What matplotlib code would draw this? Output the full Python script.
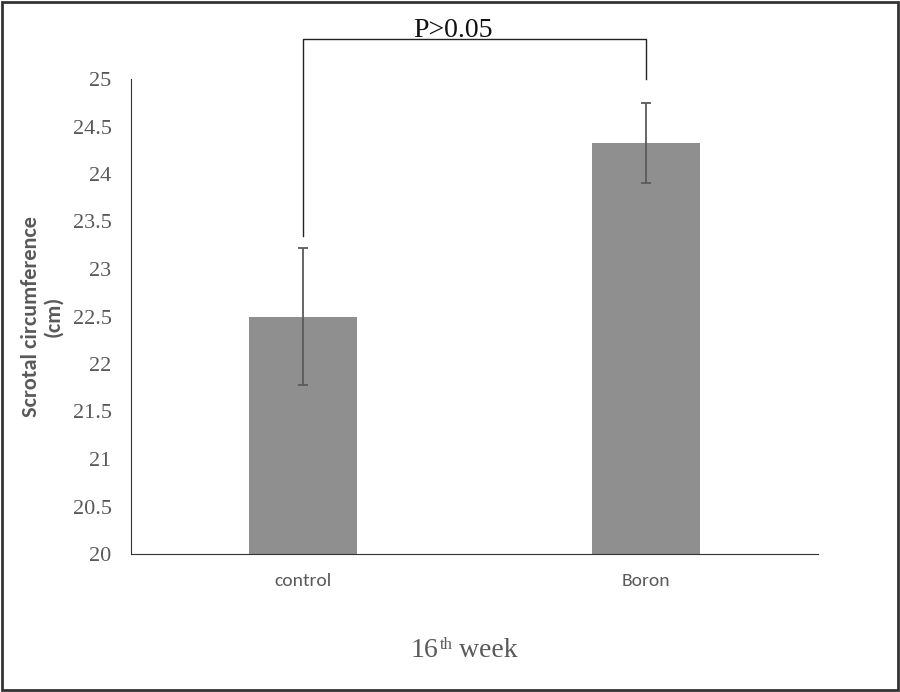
import numpy as np
import matplotlib.pyplot as plt
from matplotlib.patches import Rectangle

# Datos
grupos = ["control", "Boron"]
medias = [22.5, 24.33]
errores = [0.72, 0.42]
texto_p = "P>0.05"
marcas_y = np.arange(20, 25.01, 0.5)

serif = ["Liberation Serif", "Tinos", "Times New Roman", "Nimbus Roman", "DejaVu Serif"]
sans = ["Carlito", "Calibri", "Open Sans", "DejaVu Sans"]
gris = "#595959"

fig = plt.figure(figsize=(9, 6.92), dpi=100)
ax = fig.add_axes([131 / 900, 1 - 554 / 692, 687 / 900, 475 / 692])

x = np.arange(len(grupos))
ax.bar(x, medias, width=0.315, color="#8f8f8f", zorder=2)
ax.errorbar(x, medias, yerr=errores, fmt="none", ecolor="#5a5a5a",
            elinewidth=1.3, capsize=3.7, capthick=1.3, zorder=3)

ax.set_xlim(-0.5, 1.5)
ax.set_ylim(20, 25)
ax.set_yticks(marcas_y)
ax.set_yticklabels([f"{v:g}" for v in marcas_y], family=serif, fontsize=16, color=gris)
ax.set_xticks(x)
ax.set_xticklabels(grupos, family=sans, fontsize=14, color=gris)
ax.tick_params(axis="both", length=0)
ax.tick_params(axis="y", pad=14)
ax.tick_params(axis="x", pad=14)

for lado in ["top", "right"]:
    ax.spines[lado].set_visible(False)
ax.spines["left"].set_color("#333333")
ax.spines["bottom"].set_color("#333333")

ax.set_ylabel("Scrotal circumference\n(cm)", family=sans, fontsize=16,
              fontweight="bold", color=gris, linespacing=1.15)
ax.yaxis.set_label_coords(-0.099, 0.5)

# Título del eje x con superíndice
t16 = fig.text(411 / 900, 1 - 657 / 692, "16", family=serif, fontsize=20,
               color=gris, ha="left", va="baseline")
th = ax.annotate("th", xy=(1, 1), xycoords=t16, xytext=(0.5, 1), textcoords="offset points",
                 family=serif, fontsize=12, color=gris, ha="left", va="top",
                 annotation_clip=False)
ax.annotate(" week", xy=(1, 0), xycoords=(th, t16), family=serif, fontsize=20,
            color=gris, ha="left", va="bottom", annotation_clip=False)

# Corchete de significancia
y_sup = 25.0 + 40 / 95
ax.plot([x[0], x[0], x[1], x[1]],
        [medias[0] + errores[0] + 0.13, y_sup, y_sup, 25.0],
        color="#222222", lw=1, clip_on=False)
ax.text(0.437, y_sup + 0.02, texto_p, ha="center", va="baseline",
        family=serif, fontsize=20, color="#111111")

fig.patches.append(Rectangle((0.002, 0.003), 0.996, 0.994, transform=fig.transFigure,
                             fill=False, edgecolor="#333333", lw=2))

fig.savefig("out.png", dpi=100)
